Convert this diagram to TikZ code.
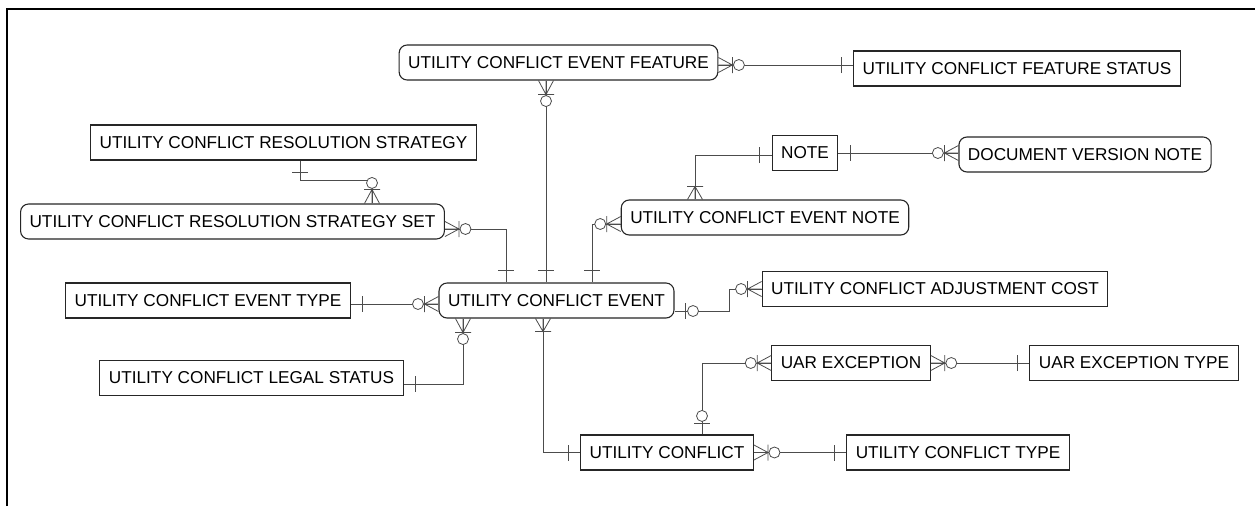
\documentclass[tikz,border=0pt]{standalone}
\usepackage{fontspec}
\setmainfont{Liberation Sans}
\newcommand{\entfont}{\fontsize{17.2}{20}\selectfont}

\begin{document}
\begin{tikzpicture}[
    x=1pt, y=-1pt,
    ent/.style={draw=black!85, line width=1.1pt, fill=white, minimum height=35pt, inner xsep=9pt, inner ysep=0pt, font=\entfont},
    dep/.style={ent, rounded corners=8pt},
    conn/.style={draw=black!70, line width=0.8pt},
    frame/.style={line width=2pt},
    one/.pic={\draw[conn] (12,-8) -- (12,8);},
    zone/.pic={\draw[conn] (11,-8) -- (11,8); \draw[conn, fill=white] (18.5,0) circle (5.5);},
    omany/.pic={\draw[conn] (0,-7.5) -- (13,0) -- (0,7.5) (0,0) -- (13,0) (13,-8) -- (13,8);},
    zmany/.pic={\draw[conn] (0,-7.5) -- (14,0) -- (0,7.5) (0,0) -- (14,0) (14,-8) -- (14,8); \draw[conn, fill=white] (20.5,0) circle (5.5);},
  ]
    \useasboundingbox (0,0) rectangle (1255,506);
    \draw[frame] (7,506) |- (1255,9);

    \node[dep] (feat)    at (558.5,62.5) {UTILITY CONFLICT EVENT FEATURE};
    \node[ent] (fstat)   at (1017,68.5)  {UTILITY CONFLICT FEATURE STATUS};
    \node[ent] (rstrat)  at (283.5,142.5) {UTILITY CONFLICT RESOLUTION STRATEGY};
    \node[dep] (rset)    at (232.5,221.5) {UTILITY CONFLICT RESOLUTION STRATEGY SET};
    \node[ent] (note)    at (805,153)    {NOTE};
    \node[dep] (docnote) at (1085,154.5) {DOCUMENT VERSION NOTE};
    \node[dep] (evnote)  at (765,217.5)  {UTILITY CONFLICT EVENT NOTE};
    \node[ent] (evtype)  at (208,300.5)  {UTILITY CONFLICT EVENT TYPE};
    \node[dep] (event)   at (556.5,300.5) {UTILITY CONFLICT EVENT};
    \node[ent] (adjcost) at (935,289)    {UTILITY CONFLICT ADJUSTMENT COST};
    \node[ent] (legal)   at (251.5,378)  {UTILITY CONFLICT LEGAL STATUS};
    \node[ent] (uarexc)  at (851,363)    {UAR EXCEPTION};
    \node[ent] (uartype) at (1134,363)   {UAR EXCEPTION TYPE};
    \node[ent] (uc)      at (667,452.5)  {UTILITY CONFLICT};
    \node[ent] (uctype)  at (958,452.5)  {UTILITY CONFLICT TYPE};

    \draw[conn] ([yshift=-2.5pt]feat.east) -- ([yshift=3.5pt]fstat.west);
    \pic at ([yshift=-2.5pt]feat.east) {zmany};
    \pic[rotate=180] at ([yshift=3.5pt]fstat.west) {one};

    \draw[conn] ([xshift=-12.5pt]feat.south) -- ([xshift=-10.5pt]event.north);
    \pic[rotate=-90] at ([xshift=-12.5pt]feat.south) {zmany};
    \pic[rotate=90] at ([xshift=-10.5pt]event.north) {one};

    \draw[conn] ([xshift=16.5pt]rstrat.south) -- ++(0,20) -| ([xshift=139.5pt]rset.north);
    \pic[rotate=-90] at ([xshift=16.5pt]rstrat.south) {one};
    \pic[rotate=90] at ([xshift=139.5pt]rset.north) {zmany};

    \draw[conn] ([yshift=-7.5pt]rset.east) -| ([xshift=-50.5pt]event.north);
    \pic at ([yshift=-7.5pt]rset.east) {zmany};
    \pic[rotate=90] at ([xshift=-50.5pt]event.north) {one};

    \draw[conn] ([yshift=-6.5pt]evnote.west) -| ([xshift=35.5pt]event.north);
    \pic[rotate=180] at ([yshift=-6.5pt]evnote.west) {zmany};
    \pic[rotate=90] at ([xshift=35.5pt]event.north) {one};

    \draw[conn] ([yshift=-2pt]note.west) -| ([xshift=-70pt]evnote.north);
    \pic[rotate=180] at ([yshift=-2pt]note.west) {one};
    \pic[rotate=90] at ([xshift=-70pt]evnote.north) {omany};

    \draw[conn] (note.east) -- ([yshift=1.5pt]docnote.west);
    \pic at (note.east) {one};
    \pic[rotate=180] at ([yshift=1.5pt]docnote.west) {zmany};

    \draw[conn] ([yshift=-3.5pt]evtype.east) -- ([yshift=-3.5pt]event.west);
    \pic at ([yshift=-3.5pt]evtype.east) {one};
    \pic[rotate=180] at ([yshift=-3.5pt]event.west) {zmany};

    \draw[conn] ([yshift=-6pt]legal.east) -| ([xshift=-93.5pt]event.south);
    \pic at ([yshift=-6pt]legal.east) {one};
    \pic[rotate=-90] at ([xshift=-93.5pt]event.south) {zmany};

    \draw[conn] ([yshift=-10.5pt]event.east) -- ++(55,0) |- (adjcost.west);
    \pic at ([yshift=-10.5pt]event.east) {zone};
    \pic[rotate=180] at (adjcost.west) {zmany};

    \draw[conn] ([xshift=-13.5pt]event.south) |- (uc.west);
    \pic[rotate=-90] at ([xshift=-13.5pt]event.south) {omany};
    \pic[rotate=180] at (uc.west) {one};

    \draw[conn] (uc.east) -- (uctype.west);
    \pic at (uc.east) {zmany};
    \pic[rotate=180] at (uctype.west) {one};

    \draw[conn] ([xshift=35pt]uc.north) |- (uarexc.west);
    \pic[rotate=90] at ([xshift=35pt]uc.north) {zone};
    \pic[rotate=180] at (uarexc.west) {zmany};

    \draw[conn] (uarexc.east) -- (uartype.west);
    \pic at (uarexc.east) {zmany};
    \pic[rotate=180] at (uartype.west) {one};
\end{tikzpicture}
\end{document}
